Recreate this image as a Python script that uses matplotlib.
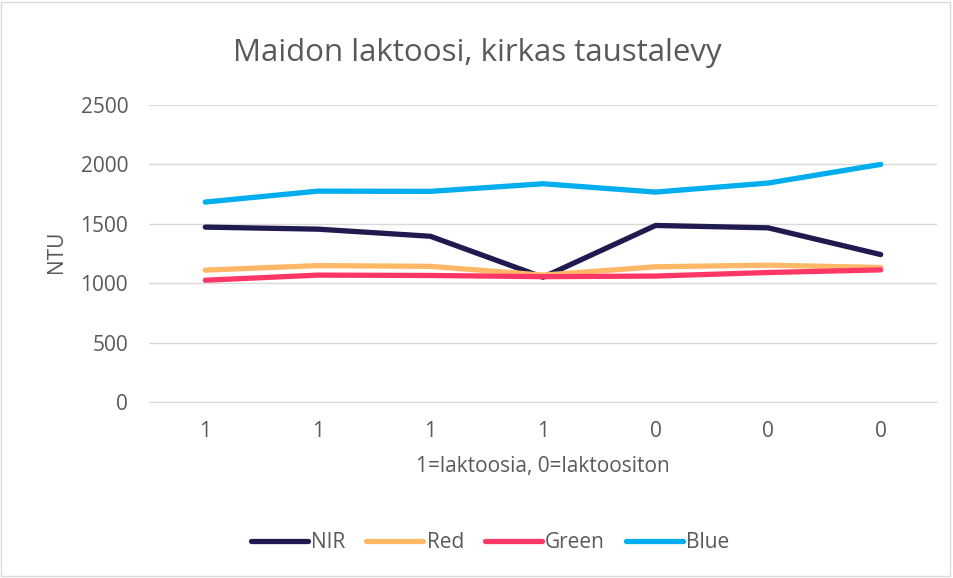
import matplotlib
matplotlib.use("Agg")
import matplotlib.pyplot as plt
from matplotlib.patches import Rectangle

categories = ["1", "1", "1", "1", "0", "0", "0"]
nir = [1472, 1455, 1395, 1050, 1486, 1466, 1241]
red = [1110, 1148, 1142, 1068, 1138, 1152, 1132]
green = [1025, 1068, 1065, 1055, 1060, 1090, 1112]
blue = [1683, 1775, 1773, 1837, 1767, 1843, 2000]
series_names = ["NIR", "Red", "Green", "Blue"]
colors = ["#1f1a4f", "#ffb866", "#ff3767", "#00adee"]

plt.rcParams['font.family'] = ['Open Sans', 'DejaVu Sans']
fig = plt.figure(figsize=(9.54, 5.78), dpi=100)
ax = fig.add_axes([149/954, 1-402/578, (937-149)/954, (402-105)/578])

x = list(range(len(categories)))
for vals, name, c in zip([nir, red, green, blue], series_names, colors):
    ax.plot(x, vals, color=c, lw=3.8, label=name, solid_capstyle='round', solid_joinstyle='round')

ax.set_xlim(-0.5, len(categories) - 0.5)
ax.set_ylim(0, 2500)
ax.set_yticks(range(0, 2501, 500))
ax.set_xticks(x)
ax.set_xticklabels(categories)
ax.grid(axis='y', color='#d9d9d9', lw=1)
ax.set_axisbelow(True)
for s in ['top', 'right', 'left']:
    ax.spines[s].set_visible(False)
ax.spines['bottom'].set_color('#d9d9d9')
ax.tick_params(length=0, labelsize=15, colors='#595959')
ax.tick_params(axis='y', pad=15)
ax.tick_params(axis='x', pad=14)
ax.set_xlabel("1=laktoosia, 0=laktoositon", fontsize=15, color='#595959', labelpad=10)
fig.text(57/954, 1-252/578, "NTU", rotation=90, ha='center', va='center',
         fontsize=15, color='#595959')
fig.text(477/954, 1-61/578, "Maidon laktoosi, kirkas taustalevy", ha='center', va='baseline',
         fontsize=22.5, color='#595959')
leg = fig.legend(loc='center', bbox_to_anchor=(490/954, 1-543/578), ncol=4, frameon=False,
                 fontsize=15, handlelength=2.74, handletextpad=0.15, columnspacing=1.0)
for t in leg.get_texts():
    t.set_color('#595959')
fig.patches.append(Rectangle((0.5/954, 2/578), 950/954, 574/578, transform=fig.transFigure,
                             fill=False, edgecolor='#d9d9d9', lw=1))
fig.savefig("out.png", dpi=100)
